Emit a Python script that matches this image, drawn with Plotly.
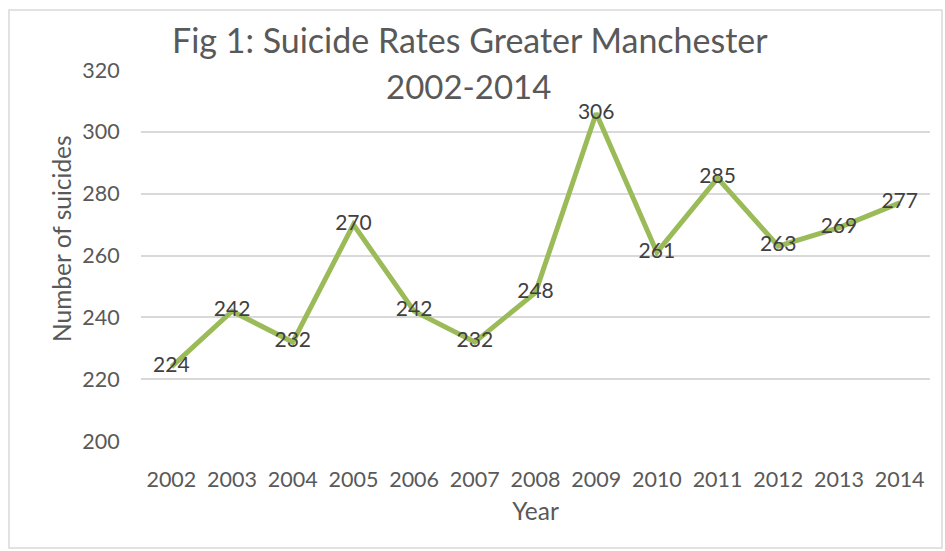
import plotly.graph_objects as go

years = ["2002", "2003", "2004", "2005", "2006", "2007", "2008", "2009", "2010", "2011", "2012", "2013", "2014"]
suicides = [224, 242, 232, 270, 242, 232, 248, 306, 261, 285, 263, 269, 277]
y_ticks = [200, 220, 240, 260, 280, 300, 320]

W, H = 945, 551
L, R, T, B = 141, 15, 70, 110
pw, ph = W - L - R, H - T - B

FONT = "Lato"
TXT = "#595959"

fig = go.Figure()
fig.add_trace(go.Scatter(
    x=years, y=suicides, mode="lines+text",
    line=dict(color="#9BBB59", width=5),
    text=[str(v) for v in suicides], textposition="middle center",
    textfont=dict(family=FONT, size=21, color="#404040"),
    cliponaxis=False, hoverinfo="skip",
))

def px_x(p):
    return (p - L) / pw

def px_y(p):
    return (H - B - p) / ph

fig.update_layout(
    width=W, height=H,
    margin=dict(l=L, r=R, t=T, b=B),
    paper_bgcolor="white", plot_bgcolor="white",
    showlegend=False,
    xaxis=dict(
        type="category", range=[-0.5, 12.5],
        showgrid=False, showline=False, zeroline=False,
        ticks="outside", ticklen=19, tickcolor="rgba(0,0,0,0)",
        tickfont=dict(family=FONT, size=21.5, color=TXT),
        title=dict(text="Year", font=dict(family=FONT, size=24.5, color=TXT), standoff=12),
    ),
    yaxis=dict(
        range=[200, 320], tickvals=y_ticks,
        showgrid=True, gridcolor="#D9D9D9", gridwidth=1.5,
        showline=False, zeroline=False,
        ticks="outside", ticklen=16, tickcolor="rgba(0,0,0,0)",
        tickfont=dict(family=FONT, size=21.5, color=TXT),
    ),
    shapes=[dict(
        type="rect", xref="paper", yref="paper",
        x0=px_x(9), x1=px_x(942), y0=px_y(548), y1=px_y(10),
        line=dict(color="#D9D9D9", width=1.5), fillcolor="rgba(0,0,0,0)", layer="below",
    )],
    annotations=[
        dict(text="Fig 1: Suicide Rates Greater Manchester", xref="paper", yref="paper",
             x=px_x(470), y=px_y(40), xanchor="center", yanchor="middle", showarrow=False,
             font=dict(family=FONT, size=34, color=TXT)),
        dict(text="2002-2014", xref="paper", yref="paper",
             x=px_x(468), y=px_y(86), xanchor="center", yanchor="middle", showarrow=False,
             font=dict(family=FONT, size=33, color=TXT)),
        dict(text="Number of suicides", xref="paper", yref="paper", textangle=-90,
             x=px_x(62), y=px_y(239), xanchor="center", yanchor="middle", showarrow=False,
             font=dict(family=FONT, size=24.5, color=TXT)),
    ],
)

fig.write_html("out.html")
